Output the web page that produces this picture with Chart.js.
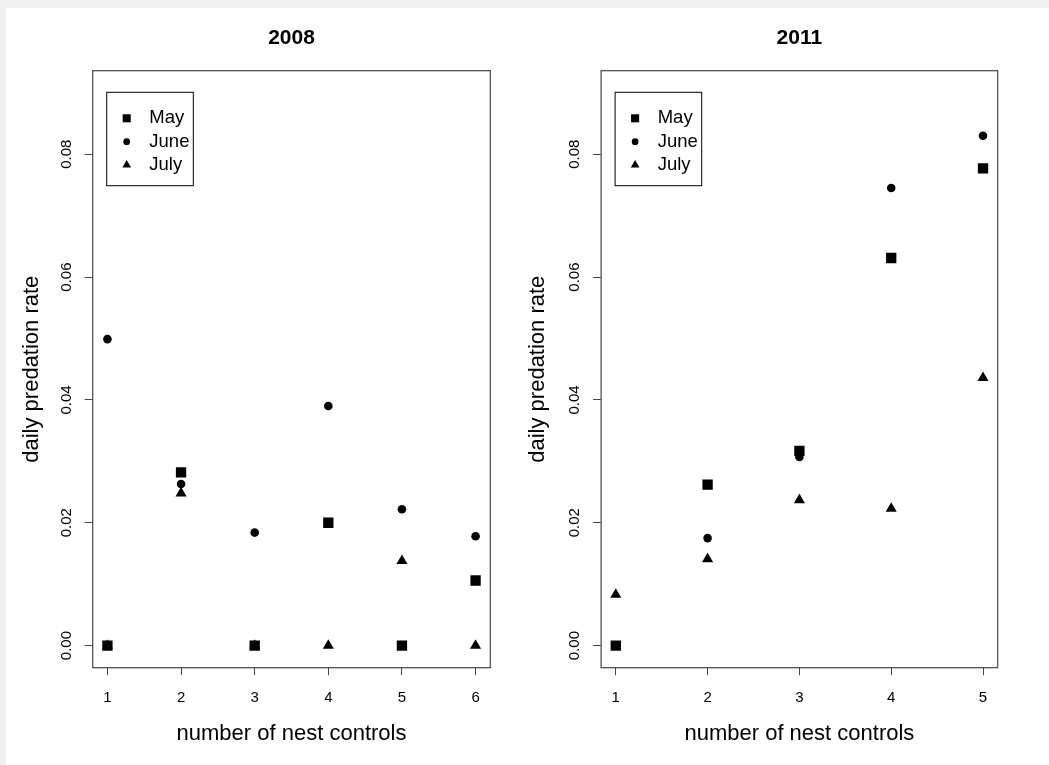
<!DOCTYPE html>
<html>
<head>
<meta charset="utf-8">
<script src="https://cdn.jsdelivr.net/npm/chart.js@4/dist/chart.umd.min.js"></script>
<style>
    html, body { margin: 0; padding: 0; }
    body { width: 1049px; height: 765px; background: #f0f0f0; position: relative; overflow: hidden; }
    .sheet { position: absolute; left: 6px; top: 8px; right: 0; bottom: 0; background: #fff; }
    canvas { position: absolute; top: 8px; }
    #chart2008 { left: 6px; }
    #chart2011 { left: 520px; }
</style>
</head>
<body>
<div class="sheet"></div>
<canvas id="chart2008" width="521" height="757"></canvas>
<canvas id="chart2011" width="529" height="757"></canvas>
<script>
// ============================================
// Daily predation rate vs. number of nest controls
// ============================================

// ── Data ─────────────────────────────────
const months     = ['May', 'June', 'July'];
const controls2008 = [1, 2, 3, 4, 5, 6];
const controls2011 = [1, 2, 3, 4, 5];
const yTicks     = [0, 0.02, 0.04, 0.06, 0.08];

const may2008  = [0, 0.0282, 0, 0.0200, 0, 0.0106];
const june2008 = [0.0499, 0.0263, 0.0184, 0.0390, 0.0222, 0.0178];
const july2008 = [0, 0.0248, 0, 0, 0.0138, 0];

const may2011  = [0, 0.0262, 0.0317, 0.0631, 0.0777];
const june2011 = [0, 0.0175, 0.0307, 0.0745, 0.0830];
const july2011 = [0.0083, 0.0141, 0.0237, 0.0223, 0.0436];

// ── Look ─────────────────────────────────
const FONT   = "'Liberation Sans', Arial, Helvetica, sans-serif";
const INK    = '#000';
const AXIS   = '#444';
const styles = [
    { pointStyle: 'rect',     radius: 7.3 },
    { pointStyle: 'circle',   radius: 4.3 },
    { pointStyle: 'triangle', radius: 6.4 },
];

const toPoints = (xs, ys) => xs.map((x, i) => ({ x, y: ys[i] }));

// ── Box + legend plugin ──────────────────
const frame = {
    id: 'frame',
    afterDraw(chart) {
        const { ctx, chartArea: a } = chart;
        ctx.save();
        ctx.strokeStyle = AXIS;
        ctx.lineWidth = 1.2;
        ctx.strokeRect(a.left, a.top, a.right - a.left, a.bottom - a.top);

        // legend in the top-left corner
        const bx = a.left + 14, by = a.top + 21.6;
        ctx.strokeStyle = INK;
        ctx.lineWidth = 1;
        ctx.strokeRect(bx, by, 86.6, 93.4);
        ctx.fillStyle = INK;
        ctx.font = `18.5px ${FONT}`;
        ctx.textBaseline = 'middle';
        ctx.textAlign = 'left';
        const rows = [26, 49.4, 72.7];
        months.forEach((m, i) => {
            const y = by + rows[i];
            Chart.helpers.drawPoint(ctx, {
                pointStyle: styles[i].pointStyle,
                radius: styles[i].radius * 0.78,
                rotation: 0, borderWidth: 0
            }, bx + 20, y);
            ctx.fillText(m, bx + 42.6, y);
        });
        ctx.restore();
    }
};

// ── Chart factory ────────────────────────
function makePanel(id, title, xs, series, xMin, xMax, layout) {
    const datasets = series.map((ys, i) => ({
        label: months[i],
        data: toPoints(xs, ys),
        pointStyle: styles[i].pointStyle,
        pointRadius: styles[i].radius,
        pointHoverRadius: styles[i].radius,
        pointBackgroundColor: INK,
        pointBorderColor: INK,
        pointBorderWidth: 0,
        showLine: false
    }));

    return new Chart(document.getElementById(id), {
        type: 'scatter',
        data: { datasets },
        options: {
            responsive: false,
            animation: false,
            events: [],
            layout: { padding: { left: 0, right: layout.padRight, top: 0, bottom: 0 } },
            plugins: {
                legend: { display: false },
                tooltip: { enabled: false },
                title: {
                    display: true, text: title, fullSize: false, color: INK,
                    font: { family: FONT, size: 21, weight: 'bold', lineHeight: 1 },
                    padding: { top: 19.5, bottom: 22.2 }
                }
            },
            scales: {
                x: {
                    type: 'linear', min: xMin, max: xMax,
                    afterBuildTicks: s => { s.ticks = xs.map(v => ({ value: v })); },
                    afterFit: s => { s.height = 97.3; },
                    grid: { drawOnChartArea: false, drawTicks: true, tickLength: 7.5, color: AXIS },
                    border: { display: false },
                    ticks: {
                        color: INK, padding: 14, autoSkip: false,
                        font: { family: FONT, size: 15 },
                        callback: v => String(v)
                    },
                    title: {
                        display: true, text: 'number of nest controls', color: INK,
                        font: { family: FONT, size: 22, lineHeight: 1 },
                        padding: { top: 0, bottom: 19.6 }
                    }
                },
                y: {
                    type: 'linear', min: -0.0036, max: 0.0936,
                    afterBuildTicks: s => { s.ticks = yTicks.map(v => ({ value: v })); },
                    afterFit: s => { s.width = layout.axisWidth; },
                    grid: { drawOnChartArea: false, drawTicks: true, tickLength: 8, color: AXIS },
                    border: { display: false },
                    ticks: {
                        color: INK, padding: 3.4, autoSkip: false,
                        minRotation: 90, maxRotation: 90, crossAlign: 'center',
                        font: { family: FONT, size: 15 },
                        callback: v => v.toFixed(2)
                    },
                    title: {
                        display: true, text: 'daily predation rate', color: INK,
                        font: { family: FONT, size: 22, lineHeight: 1 },
                        padding: { top: layout.titleGap, bottom: 0 }
                    }
                }
            }
        },
        plugins: [frame]
    });
}

makePanel('chart2008', '2008', controls2008, [may2008, june2008, july2008], 0.8, 6.2,
    { axisWidth: 86.7, padRight: 36.7, titleGap: 14.9 });
makePanel('chart2011', '2011', controls2011, [may2011, june2011, july2011], 0.84, 5.16,
    { axisWidth: 81.1, padRight: 51.3, titleGap: 6.9 });
</script>
</body>
</html>
